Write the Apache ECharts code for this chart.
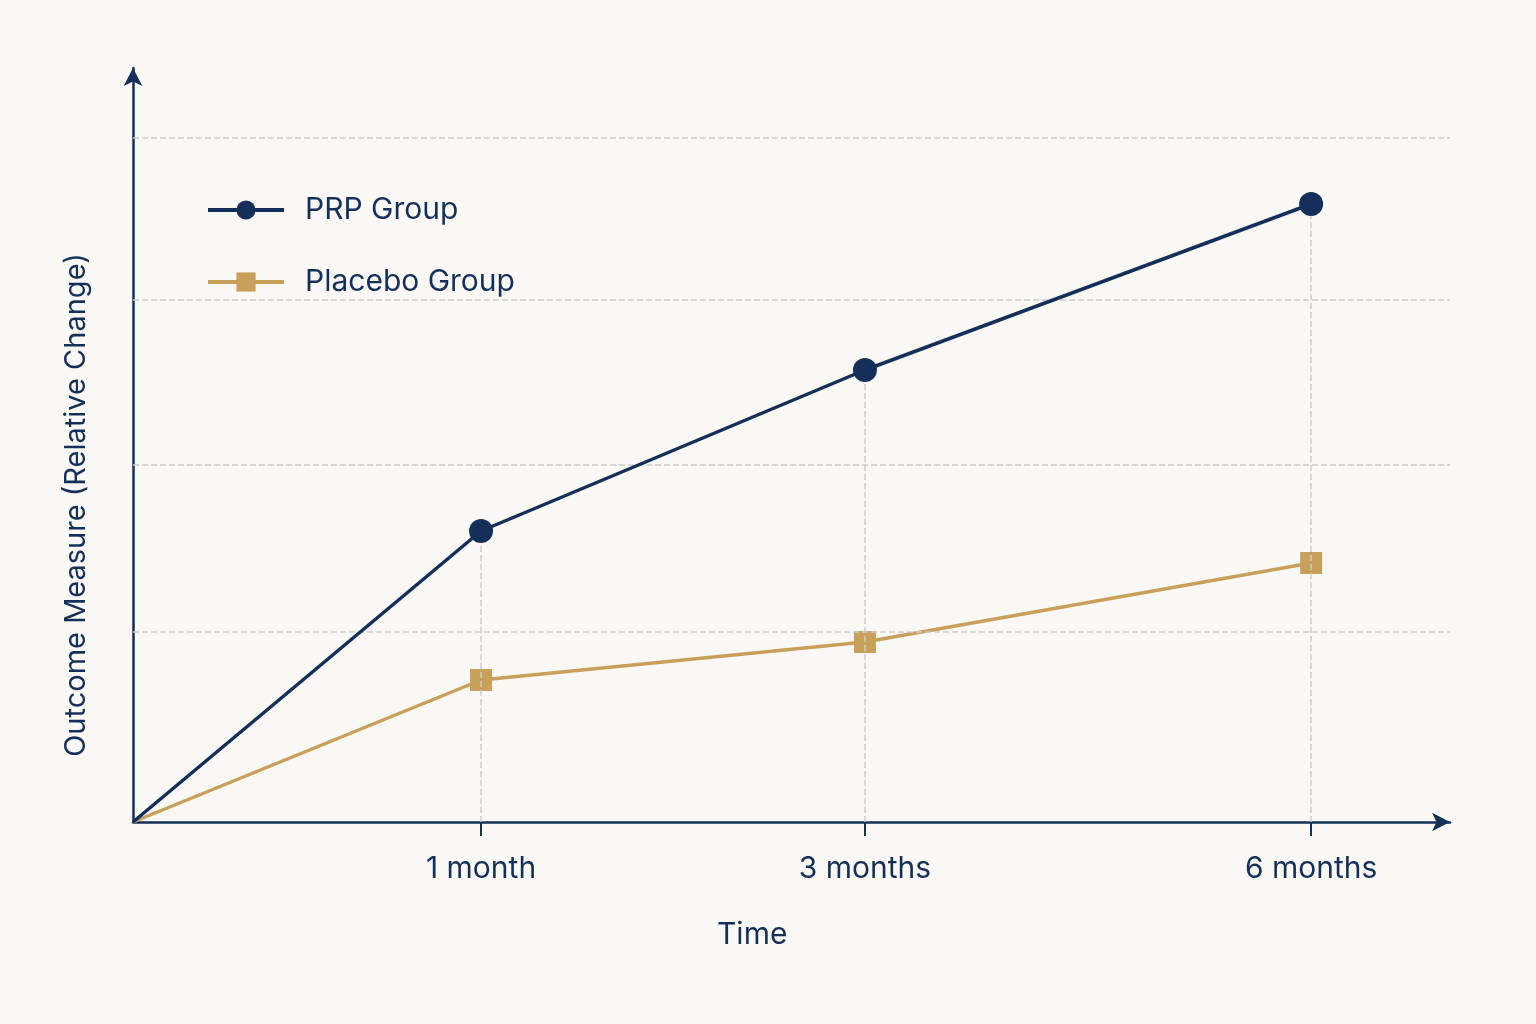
<!DOCTYPE html>
<html><head><meta charset="utf-8">
<script src="https://cdn.jsdelivr.net/npm/echarts@6/dist/echarts.min.js"></script>
<style>html,body{margin:0;background:#faf8f5}#c{width:1536px;height:1024px}</style>
</head><body><div id="c"></div>
<script>
// x positions of time points on the drawn (non-linear) time axis
const timePoints = [0, 1, 2.103, 3.385];
const timeLabels = ['', '1 month', '3 months', '6 months'];
const prpValues = [0, 291, 452, 618];
const placeboValues = [0, 142, 180, 259];
const gridValues = [190, 357, 522, 684];

const navy = '#14305a', gold = '#c9a05a';
const chart = echarts.init(document.getElementById('c'));
const vLines = timePoints.slice(1).map((x, i) => [{coord: [x, 0]}, {coord: [x, prpValues[i + 1]]}]);
const hLines = gridValues.map(v => ({yAxis: v}));
const font = 'Inter, "Noto Sans", sans-serif';
chart.setOption({
  backgroundColor: '#faf8f5',
  animation: false,
  textStyle: {fontFamily: font},
  grid: {left: 133, right: 86, top: 68, bottom: 202},
  graphic: [
    {type: 'text', left: 717, top: 920, style: {text: 'Time', fontSize: 30, fill: navy, fontFamily: font}},
    {type: 'text', x: 62, y: 505, rotation: Math.PI / 2,
      style: {text: 'Outcome Measure (Relative Change)', fontSize: 29, fill: navy, fontFamily: font,
        align: 'center', verticalAlign: 'top'}}
  ],
  legend: {
    orient: 'vertical', left: 201, top: 190, itemWidth: 76, itemHeight: 24, itemGap: 42,
    lineStyle: {width: 4},
    textStyle: {fontSize: 30, color: navy, padding: [0, 0, 0, 16]},
    data: ['PRP Group', 'Placebo Group']
  },
  xAxis: {
    type: 'value', min: 0, max: 3.784,
    axisLine: {lineStyle: {color: navy, width: 2.5}, symbol: ['none', 'arrow'], symbolSize: [14, 18]},
    axisTick: {show: true, customValues: timePoints.slice(1), length: 14, lineStyle: {color: navy, width: 2}},
    axisLabel: {customValues: timePoints.slice(1), fontSize: 30, color: navy, margin: 32,
      formatter: v => timeLabels[timePoints.findIndex(t => Math.abs(t - v) < 1e-6)] || ''},
    splitLine: {show: false}
  },
  yAxis: {
    type: 'value', min: 0, max: 754,
    axisLine: {show: true, lineStyle: {color: navy, width: 2.5}, symbol: ['none', 'arrow'], symbolSize: [14, 18]},
    axisTick: {show: false}, axisLabel: {show: false}, splitLine: {show: false}
  },
  series: [
    {
      name: 'PRP Group', type: 'line', z: 5,
      data: timePoints.map((x, i) => ({value: [x, prpValues[i]], symbolSize: i === 0 ? 0 : 24})),
      lineStyle: {color: navy, width: 3.5}, itemStyle: {color: navy},
      symbol: 'circle', symbolSize: 24,
      markLine: {silent: true, symbol: 'none', label: {show: false},
        lineStyle: {type: 'dashed', color: '#cccccc', width: 1.5},
        data: vLines.concat(hLines)}
    },
    {
      name: 'Placebo Group', type: 'line', z: 4,
      data: timePoints.map((x, i) => ({value: [x, placeboValues[i]], symbolSize: i === 0 ? 0 : 22})),
      lineStyle: {color: gold, width: 3.5}, itemStyle: {color: gold},
      symbol: 'rect', symbolSize: 22
    }
  ]
});
</script></body></html>
